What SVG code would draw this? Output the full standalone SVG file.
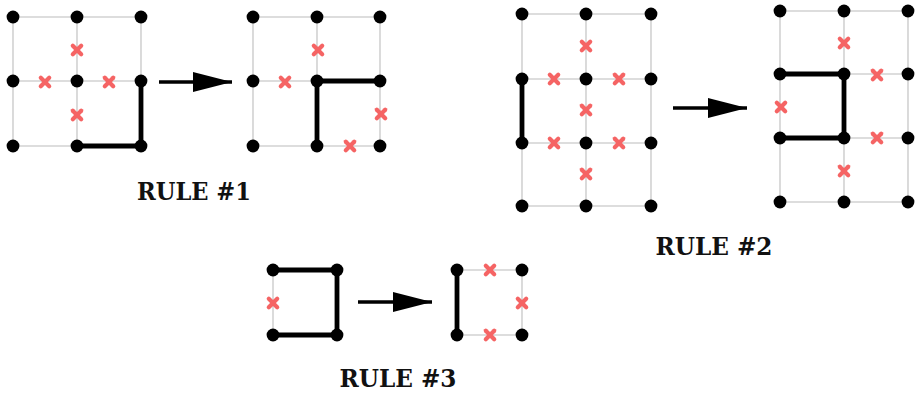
<svg xmlns="http://www.w3.org/2000/svg" xmlns:xlink="http://www.w3.org/1999/xlink" width="917" height="394" viewBox="0 0 917 394">
  <style>
    .grid { stroke: #d2d2d2; stroke-width: 1.6; fill: none; }
    .edge { stroke: #000; stroke-width: 4.8; fill: none; stroke-linecap: square; }
    .arrow { stroke: #000; stroke-width: 3.6; fill: none; }
    .label { font-family: "DejaVu Serif", "Liberation Serif", serif; font-weight: bold; font-size: 24px; fill: #111; text-anchor: middle; }
  </style>
  <defs>
    <circle id="dot" r="6.4" fill="#000"/>
    <g id="cross" stroke="#f56464" stroke-width="4.2" stroke-linecap="round">
      <line x1="-4.2" y1="-4.2" x2="4.2" y2="4.2"/>
      <line x1="-4.2" y1="4.2" x2="4.2" y2="-4.2"/>
    </g>
    <marker id="head" markerUnits="userSpaceOnUse" markerWidth="40" markerHeight="22" refX="39" refY="11" orient="auto">
      <path d="M0,1 L39,11 L0,21 Z" fill="#000"/>
    </marker>
  </defs>

  <!-- Rule 1, before -->
  <g id="rule1-before">
    <path class="grid" d="M13,17H141M13,81H141M13,146H141M13,17V146M77,17V146M141,17V146"/>
    <path class="edge" d="M141,81V146H77"/>
    <use href="#cross" x="77" y="50"/>
    <use href="#cross" x="45" y="82"/>
    <use href="#cross" x="109" y="82"/>
    <use href="#cross" x="77" y="115"/>
    <use href="#dot" x="13" y="17"/><use href="#dot" x="77" y="17"/><use href="#dot" x="141" y="17"/>
    <use href="#dot" x="13" y="81"/><use href="#dot" x="77" y="81"/><use href="#dot" x="141" y="81"/>
    <use href="#dot" x="13" y="146"/><use href="#dot" x="77" y="146"/><use href="#dot" x="141" y="146"/>
  </g>

  <!-- Rule 1, after -->
  <g id="rule1-after">
    <path class="grid" d="M253,17H380M253,81H380M253,146H380M253,17V146M317,17V146M380,17V146"/>
    <path class="edge" d="M380,81H317V146"/>
    <use href="#cross" x="318" y="50"/>
    <use href="#cross" x="285" y="82"/>
    <use href="#cross" x="381" y="114"/>
    <use href="#cross" x="350" y="146"/>
    <use href="#dot" x="253" y="17"/><use href="#dot" x="317" y="17"/><use href="#dot" x="380" y="17"/>
    <use href="#dot" x="253" y="81"/><use href="#dot" x="317" y="81"/><use href="#dot" x="380" y="81"/>
    <use href="#dot" x="253" y="146"/><use href="#dot" x="317" y="146"/><use href="#dot" x="380" y="146"/>
  </g>

  <!-- Rule 2, before -->
  <g id="rule2-before">
    <path class="grid" d="M522,14H651M522,79H651M522,143H651M522,206H651M522,14V206M586,14V206M651,14V206"/>
    <path class="edge" d="M522,79V143"/>
    <use href="#cross" x="586" y="46"/>
    <use href="#cross" x="554" y="79"/>
    <use href="#cross" x="619" y="79"/>
    <use href="#cross" x="586" y="110"/>
    <use href="#cross" x="554" y="143"/>
    <use href="#cross" x="619" y="143"/>
    <use href="#cross" x="586" y="174"/>
    <use href="#dot" x="522" y="14"/><use href="#dot" x="586" y="14"/><use href="#dot" x="651" y="14"/>
    <use href="#dot" x="522" y="79"/><use href="#dot" x="586" y="79"/><use href="#dot" x="651" y="79"/>
    <use href="#dot" x="522" y="143"/><use href="#dot" x="586" y="143"/><use href="#dot" x="651" y="143"/>
    <use href="#dot" x="522" y="206"/><use href="#dot" x="586" y="206"/><use href="#dot" x="651" y="206"/>
  </g>

  <!-- Rule 2, after -->
  <g id="rule2-after">
    <path class="grid" d="M780,11H908M780,74H908M780,138H908M780,202H908M780,11V202M844,11V202M908,11V202"/>
    <path class="edge" d="M780,74H844V138H780"/>
    <use href="#cross" x="844" y="43"/>
    <use href="#cross" x="877" y="75"/>
    <use href="#cross" x="781" y="107"/>
    <use href="#cross" x="877" y="138"/>
    <use href="#cross" x="844" y="171"/>
    <use href="#dot" x="780" y="11"/><use href="#dot" x="844" y="11"/><use href="#dot" x="908" y="11"/>
    <use href="#dot" x="780" y="74"/><use href="#dot" x="844" y="74"/><use href="#dot" x="908" y="74"/>
    <use href="#dot" x="780" y="138"/><use href="#dot" x="844" y="138"/><use href="#dot" x="908" y="138"/>
    <use href="#dot" x="780" y="202"/><use href="#dot" x="844" y="202"/><use href="#dot" x="908" y="202"/>
  </g>

  <!-- Rule 3, before -->
  <g id="rule3-before">
    <path class="grid" d="M273,270V335"/>
    <path class="edge" d="M273,270H337V335H273"/>
    <use href="#cross" x="273" y="303"/>
    <use href="#dot" x="273" y="270"/><use href="#dot" x="337" y="270"/>
    <use href="#dot" x="273" y="335"/><use href="#dot" x="337" y="335"/>
  </g>

  <!-- Rule 3, after -->
  <g id="rule3-after">
    <path class="grid" d="M457,270H522V335H457"/>
    <path class="edge" d="M457,270V335"/>
    <use href="#cross" x="490" y="270"/>
    <use href="#cross" x="522" y="303"/>
    <use href="#cross" x="490" y="335"/>
    <use href="#dot" x="457" y="270"/><use href="#dot" x="522" y="270"/>
    <use href="#dot" x="457" y="335"/><use href="#dot" x="522" y="335"/>
  </g>

  <!-- transition arrows -->
  <g id="connectors">
    <line class="arrow" x1="159" y1="82" x2="232" y2="82" marker-end="url(#head)"/>
    <line class="arrow" x1="673" y1="108" x2="747" y2="108" marker-end="url(#head)"/>
    <line class="arrow" x1="358" y1="302" x2="432" y2="302" marker-end="url(#head)"/>
  </g>

  <!-- captions -->
  <g id="captions">
    <text class="label" x="194" y="199.5" textLength="114" lengthAdjust="spacingAndGlyphs">RULE #1</text>
    <text class="label" x="714" y="255" textLength="117" lengthAdjust="spacingAndGlyphs">RULE #2</text>
    <text class="label" x="398" y="387" textLength="117" lengthAdjust="spacingAndGlyphs">RULE #3</text>
  </g>
</svg>
